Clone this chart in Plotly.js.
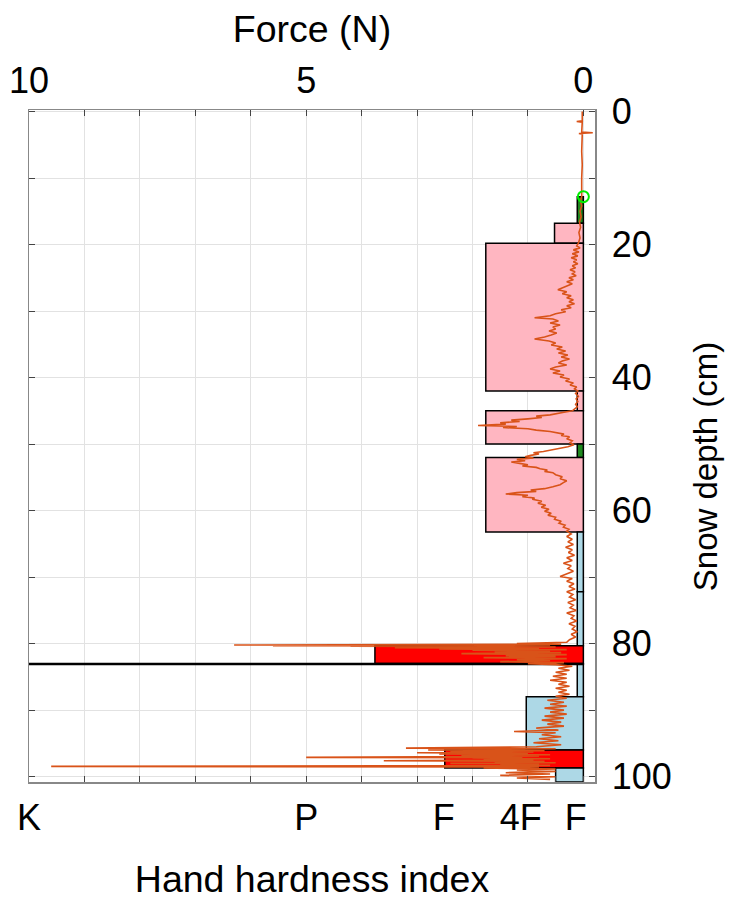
<!DOCTYPE html>
<html>
<head>
<meta charset="utf-8">
<script src="https://cdn.plot.ly/plotly-3.0.1.min.js"></script>
<style>html,body{margin:0;padding:0;background:#fff;}#chart{width:731px;height:903px;}</style>
</head>
<body>
<div id="chart"></div>
<script>
// ---- snow layers (hand hardness profile) ----
const layerTop      = [12.8, 16.8, 19.8, 42.0, 45.0, 50.0, 52.0, 63.2, 72.2, 80.3, 83.0, 83.12, 88.0, 96.0, 98.7];
const layerBottom   = [16.8, 19.8, 42.0, 45.0, 50.0, 52.0, 63.2, 72.2, 80.3, 83.0, 83.12, 88.0, 96.0, 98.7, 100.8];
const layerHardness = [0.11, 0.52, 1.76, 0.11, 1.76, 0.11, 1.76, 0.11, 0.11, 3.76, 10, 0.11, 1.03, 2.5, 0.5];
const layerColor    = ['#1f8a1f','#ffb6c1','#ffb6c1','#ffb6c1','#ffb6c1','#1f8a1f','#ffb6c1','#add8e6','#add8e6','#ff0000','#000000','#add8e6','#add8e6','#ff0000','#add8e6'];

// ---- snow surface marker ----
const surfaceDepth = [12.8];
const surfaceForce = [0];

// ---- penetration force profile: [depth cm, force N] ----
const smpReadings = [
 [0,0.02],[1.4,0.02],[1.5,0.12],[1.6,0.02],[3.1,0.03],[3.2,-0.17],[3.3,0.08],[3.4,0.02],[6,0.03],[8,0.02],[10,0.03],[12.8,0.03],
 [13.5,0.05],[14.2,0.03],[15,0.06],[15.8,0.04],[16.6,0.07],[17.4,0.05],[18.2,0.08],[19,0.06],[19.8,0.09],
 [20.2,0.12],[20.5,0.06],[20.8,0.18],[21.1,0.08],[21.4,0.2],[21.7,0.1],[22.0,0.22],[22.3,0.12],[22.6,0.18],[22.9,0.1],
 [23.2,0.2],[23.5,0.14],[23.8,0.24],[24.1,0.15],[24.4,0.2],[24.7,0.13],[25.0,0.26],[25.3,0.18],[25.6,0.3],[25.9,0.2],
 [26.2,0.28],[26.5,0.35],[26.8,0.46],[27.1,0.3],[27.4,0.38],[27.7,0.22],[28.0,0.3],[28.3,0.18],[28.6,0.26],[28.9,0.16],
 [29.2,0.3],[29.5,0.22],[29.8,0.4],[30.1,0.32],[30.4,0.5],[30.7,0.6],[31.0,0.88],[31.2,0.55],[31.5,0.45],[31.8,0.6],
 [32.1,0.42],[32.4,0.55],[32.7,0.5],[33.0,0.62],[33.3,0.48],[33.6,0.58],[33.9,0.7],[34.2,0.88],[34.5,0.62],[34.8,0.5],
 [35.1,0.58],[35.4,0.38],[35.7,0.48],[36.0,0.32],[36.3,0.45],[36.6,0.28],[36.9,0.4],[37.2,0.25],[37.5,0.38],[37.8,0.45],
 [38.1,0.3],[38.4,0.5],[38.7,0.6],[39.0,0.42],[39.3,0.55],[39.6,0.35],[39.9,0.42],[40.2,0.25],[40.5,0.32],[40.8,0.18],
 [41.1,0.24],[41.4,0.12],[41.7,0.16],[42.0,0.1],
 [42.4,0.14],[42.8,0.09],[43.2,0.13],[43.6,0.1],[44.0,0.14],[44.4,0.11],[44.8,0.16],
 [45.0,0.2],[45.2,0.35],[45.4,0.48],[45.6,0.6],[45.8,0.85],[46.0,0.75],[46.2,1.0],[46.4,1.3],[46.6,1.15],[46.8,1.5],
 [47.0,1.4],[47.2,1.9],[47.35,1.2],[47.5,1.45],[47.7,1.0],[47.9,0.85],[48.1,0.6],[48.3,0.5],[48.5,0.35],[48.7,0.4],
 [48.9,0.25],[49.2,0.3],[49.5,0.2],[49.8,0.24],[50.1,0.17],[50.4,0.28],[50.7,0.45],[50.9,0.6],[51.1,0.72],[51.3,0.9],
 [51.5,0.8],[51.7,0.95],[51.9,1.05],[52.1,0.9],[52.3,1.2],[52.5,1.05],[52.7,1.3],[52.9,1.15],[53.1,1.0],[53.3,1.1],
 [53.5,0.85],[53.7,0.78],[53.9,0.65],[54.1,0.7],[54.3,0.55],[54.6,0.5],[54.9,0.38],[55.2,0.42],[55.5,0.3],[55.8,0.36],
 [56.1,0.42],[56.4,0.55],[56.7,0.7],[56.9,0.95],[57.1,0.85],[57.3,1.2],[57.5,1.4],[57.7,1.0],[57.9,1.1],[58.1,0.88],
 [58.3,0.92],[58.6,0.75],[58.9,0.82],[59.2,0.68],[59.5,0.76],[59.8,0.62],[60.1,0.7],[60.4,0.58],[60.7,0.64],[61.0,0.5],
 [61.3,0.52],[61.6,0.4],[61.9,0.44],[62.2,0.33],[62.5,0.36],[62.8,0.26],[63.1,0.3],
 [63.5,0.22],[63.9,0.3],[64.3,0.2],[64.7,0.28],[65.1,0.18],[65.5,0.32],[65.9,0.2],[66.3,0.27],[66.7,0.16],[67.1,0.3],
 [67.5,0.2],[67.9,0.36],[68.3,0.22],[68.7,0.28],[69.1,0.18],[69.5,0.32],[69.9,0.42],[70.2,0.2],[70.6,0.3],[71.0,0.17],
 [71.4,0.26],[71.8,0.15],[72.2,0.3],[72.6,0.19],[73.0,0.25],[73.4,0.14],[73.8,0.28],[74.2,0.18],[74.6,0.24],[75.0,0.13],
 [75.4,0.3],[75.8,0.17],[76.2,0.22],[76.6,0.12],[77.0,0.26],[77.4,0.15],[77.8,0.2],[78.2,0.11],[78.6,0.22],[79.0,0.14],
 [79.4,0.25],[79.8,0.3],
 [80.0,1.2],[80.1,0.4],[80.2,6.3],[80.25,0.6],[80.3,5.6],[80.35,1.0],[80.4,4.2],[80.5,0.5],[80.6,3.4],[80.7,0.8],
 [80.8,2.6],[80.9,0.3],[81.0,2.0],[81.1,0.6],[81.2,1.6],[81.35,0.4],[81.5,2.2],[81.65,0.3],[81.8,1.4],[81.95,0.5],
 [82.1,1.8],[82.25,0.3],[82.4,1.2],[82.55,0.6],[82.7,1.5],[82.85,0.35],[83.0,1.0],[83.15,0.5],
 [83.4,0.2],[83.7,0.45],[84.0,0.25],[84.3,0.5],[84.6,0.3],[84.9,0.55],[85.2,0.3],[85.5,0.6],[85.8,0.3],[86.1,0.45],
 [86.4,0.25],[86.7,0.5],[87.0,0.3],[87.3,0.45],[87.6,0.25],[87.9,0.5],
 [88.2,0.3],[88.5,0.65],[88.8,0.35],[89.1,0.6],[89.4,0.3],[89.7,0.7],[90.0,0.35],[90.3,0.6],[90.6,0.3],[90.9,0.7],
 [91.2,0.35],[91.5,0.75],[91.8,0.4],[92.1,0.65],[92.4,0.35],[92.7,0.85],[93.0,0.45],[93.2,1.25],[93.4,0.5],[93.7,0.75],
 [94.0,0.4],[94.3,0.8],[94.6,0.45],[94.9,0.9],[95.2,0.4],[95.5,0.85],[95.7,3.2],[95.8,0.5],
 [96.0,2.8],[96.1,0.7],[96.2,2.4],[96.3,0.9],[96.4,3.0],[96.5,1.0],[96.6,2.6],[96.7,0.6],[96.8,2.2],[96.9,0.8],
 [97.0,2.9],[97.1,5.0],[97.15,1.1],[97.2,2.0],[97.3,0.6],[97.4,1.8],[97.5,0.9],[97.6,3.6],[97.7,0.7],[97.8,1.6],
 [97.9,0.5],[98.0,2.4],[98.1,0.8],[98.2,1.5],[98.3,0.6],[98.45,9.6],[98.55,0.8],[98.7,1.8],[98.85,0.5],
 [99.0,1.2],[99.2,0.5],[99.4,1.4],[99.6,0.6],[99.8,1.5],[100.0,0.5],[100.2,1.2],[100.4,0.6]
];

// ---- axis ticks and titles ----
const forceTickVals   = [0,1,2,3,4,5,6,7,8,9,10];
const forceTickText   = ['0','','','','','5','','','','','10'];
const hardTickMarks   = [2.5, 0.5];
const hardLabelPos    = [10, 5, 2.52, 1.13, 0.135];
const hardLabelText   = ['K','P','F','4F','F'];
const depthTickVals   = [0,10,20,30,40,50,60,70,80,90,100];
const depthTickText   = ['0','','20','','40','','60','','80','','100'];
const depthTitle      = 'Snow depth (cm)';

const layerCenter = layerTop.map((t,i)=>(t+layerBottom[i])/2);
const layerThick  = layerTop.map((t,i)=>layerBottom[i]-t);

const FONT = 'Liberation Sans, Arial, Helvetica, sans-serif';
const xRange = [10, -0.21];
const TICKF = {family:FONT, size:36, color:'#000'};
const TITLEF = {family:FONT, size:37.5, color:'#000'};

const traces = [
  {type:'bar', orientation:'h', x:layerHardness, y:layerCenter, width:layerThick, base:0,
   marker:{color:layerColor, line:{color:'#000', width:1.5}}, xaxis:'x', yaxis:'y', hoverinfo:'skip'},
  {type:'scatter', mode:'lines', x:smpReadings.map(p=>p[1]), y:smpReadings.map(p=>p[0]),
   line:{color:'#D95319', width:1.6}, xaxis:'x2', yaxis:'y', hoverinfo:'skip'},
  {type:'scatter', mode:'markers', x:surfaceForce, y:surfaceDepth,
   marker:{symbol:'circle-open', size:11, color:'#00ee00', line:{width:2, color:'#00ee00'}}, xaxis:'x3', yaxis:'y', hoverinfo:'skip'}
];

const layout = {
  width:731, height:903,
  margin:{l:29, r:136, t:110, b:121, pad:0},
  paper_bgcolor:'#fff', plot_bgcolor:'#fff',
  showlegend:false, barmode:'overlay', bargap:0,
  font:{family:FONT, size:36, color:'#000'},
  xaxis:{range:xRange, tickvals:hardTickMarks, ticks:'inside', ticklen:6, tickcolor:'#444', tickwidth:1,
         showticklabels:false, showgrid:false, zeroline:false, showline:true, linecolor:'#888', linewidth:1.5, mirror:false},
  xaxis2:{overlaying:'x', side:'top', range:xRange, tickvals:forceTickVals, ticktext:forceTickText,
          ticks:'inside', ticklen:6, tickcolor:'#444', tickwidth:1, mirror:'ticks', showline:true, linecolor:'#888', linewidth:1.5,
          showgrid:true, gridcolor:'#e2e2e2', gridwidth:1, zeroline:false, ticklabelstandoff:1,
          tickfont:TICKF,
          title:{text:'Force (N)', font:TITLEF, standoff:6}},
  xaxis3:{overlaying:'x', side:'bottom', range:xRange, tickvals:hardLabelPos, ticktext:hardLabelText,
          ticks:'', showgrid:false, zeroline:false, showline:false, ticklabelstandoff:11,
          tickfont:TICKF,
          title:{text:'Hand hardness index', font:TITLEF, standoff:28}},
  yaxis:{side:'right', range:[100.8, -0.23], tickvals:depthTickVals, ticktext:depthTickText,
         ticks:'inside', ticklen:6, tickcolor:'#444', tickwidth:1, mirror:'ticks', showline:true, linecolor:'#888', linewidth:1.5,
         showgrid:true, gridcolor:'#e2e2e2', gridwidth:1, zeroline:false, ticklabelstandoff:8,
         tickfont:TICKF},
  annotations:[
    {text:depthTitle, xref:'paper', yref:'paper', x:1.195, y:0.469, xanchor:'center', yanchor:'middle',
     textangle:-90, showarrow:false, font:{family:FONT, size:33, color:'#000'}}
  ]
};

Plotly.newPlot('chart', traces, layout, {staticPlot:true, displayModeBar:false});
</script>
</body>
</html>
